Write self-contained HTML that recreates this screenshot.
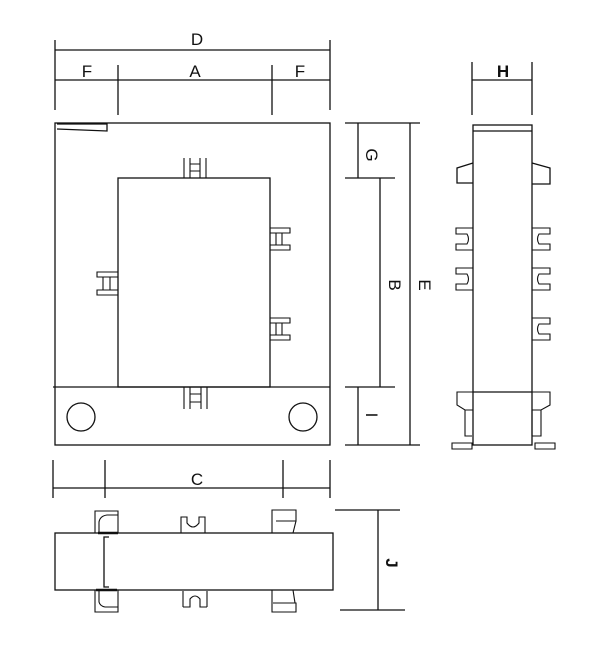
<!DOCTYPE html>
<html><head><style>body{margin:0;background:#fff}svg{display:block}</style></head><body>
<svg width="609" height="658" viewBox="0 0 609 658" xmlns="http://www.w3.org/2000/svg" font-family="Liberation Sans, sans-serif" font-size="17" fill="none" stroke="#111" stroke-width="1.3">
<g fill="#111" stroke="none" text-anchor="middle">
<text x="197" y="45">D</text><text x="87" y="77">F</text><text x="195" y="77">A</text><text x="300" y="77">F</text>
<text x="503" y="77" font-weight="bold">H</text><text x="197" y="485">C</text>
<text transform="translate(366,155) rotate(90)">G</text>
<text transform="translate(389,285) rotate(90)">B</text>
<text transform="translate(419,285) rotate(90)">E</text>
<text transform="translate(366,415) rotate(90)">I</text>
<text transform="translate(386,563) rotate(90)" font-weight="bold">J</text>
</g>
<!-- top dims -->
<path d="M55 40V110M330 40V110M55 50H330M118 65V115M272 65V115M55 80H330"/>
<!-- main -->
<rect x="55" y="123" width="275" height="322"/>
<path d="M57 124H107V131L57 129"/>
<rect x="118" y="178" width="152" height="209"/>
<path d="M53 387H330"/>
<circle cx="81" cy="417" r="14"/><circle cx="303" cy="417" r="14"/>
<g stroke-width="1.1">
<path d="M184 158V178M190 158V178M200 158V178M206 158V178M190 164H200M190 171H200"/>
<path d="M184 387V409M190 387V409M201 387V409M207 387V409M190 394H201M190 402H201"/>
<path d="M270 228H290V233H270M270 245H290V250H270M276 233V245M282 233V245"/>
<path d="M270 318H290V323H270M270 335H290V340H270M276 323V335M282 323V335"/>
<path d="M118 272H97V277H118M118 290H97V295H118M103 277V290M110 277V290"/>
</g>
<!-- right dims -->
<path d="M345 123H420M345 178H395M345 387H395M345 445H420M358 123V178M380 178V387M410 123V445M358 387V445"/>
<!-- side view -->
<path d="M472 62V115M532 62V115M472 80H532"/>
<rect x="473" y="125" width="59" height="320"/>
<path d="M473 131H532M473 392H532"/>
<path d="M473 163L457 168V183H473M532 163L550 168V184H532"/>
<g stroke-width="1.1">
<path d="M473 228H456V234H467Q470 239 467 244H456V250H473"/>
<path d="M473 268H456V274H467Q470 279 467 284H456V290H473"/>
<path d="M532 228H550V234H539Q536 239 539 244H550V250H532"/>
<path d="M532 268H550V274H539Q536 279 539 284H550V290H532"/>
<path d="M532 318H550V324H539Q536 329 539 334H550V340H532"/>
<path d="M473 392H457V405L465 410H473M532 392H550V405L541 410H532"/>
<path d="M465 410V436H472M532 410V436M541 410V436H532"/>
<path d="M452 443H472V449H452ZM535 443H555V449H535Z"/>
</g>
<!-- bottom view -->
<path d="M53 460V498M105 460V498M283 460V498M330 460V498M53 488H105M105 488H283M283 488H330"/>
<rect x="55" y="533" width="278" height="57"/>
<path d="M109 537H104V587H109"/>
<g stroke-width="1.1">
<path d="M95 533V511H118V533M99 533V522Q100 516 107 515H118"/>
<path d="M95 590V612H118V590M99 590V602Q100 606 105 607H118"/>
<path d="M181 533V517H187V523Q193 531 199 523V517H205V533"/>
<path d="M183 607V591M207 607V591M183 607H190V599Q195 593 200 599V607H207"/>
<path d="M272 533V510H296V521H276M296 521L293 533"/>
<path d="M272 590V612H296V603H273M293 590L295 603"/>
</g>
<path stroke-width="2.5" d="M98 533H118M96 590H117"/>
<path d="M335 510H400M340 610H405M378 510V610"/>
</svg>
</body></html>
